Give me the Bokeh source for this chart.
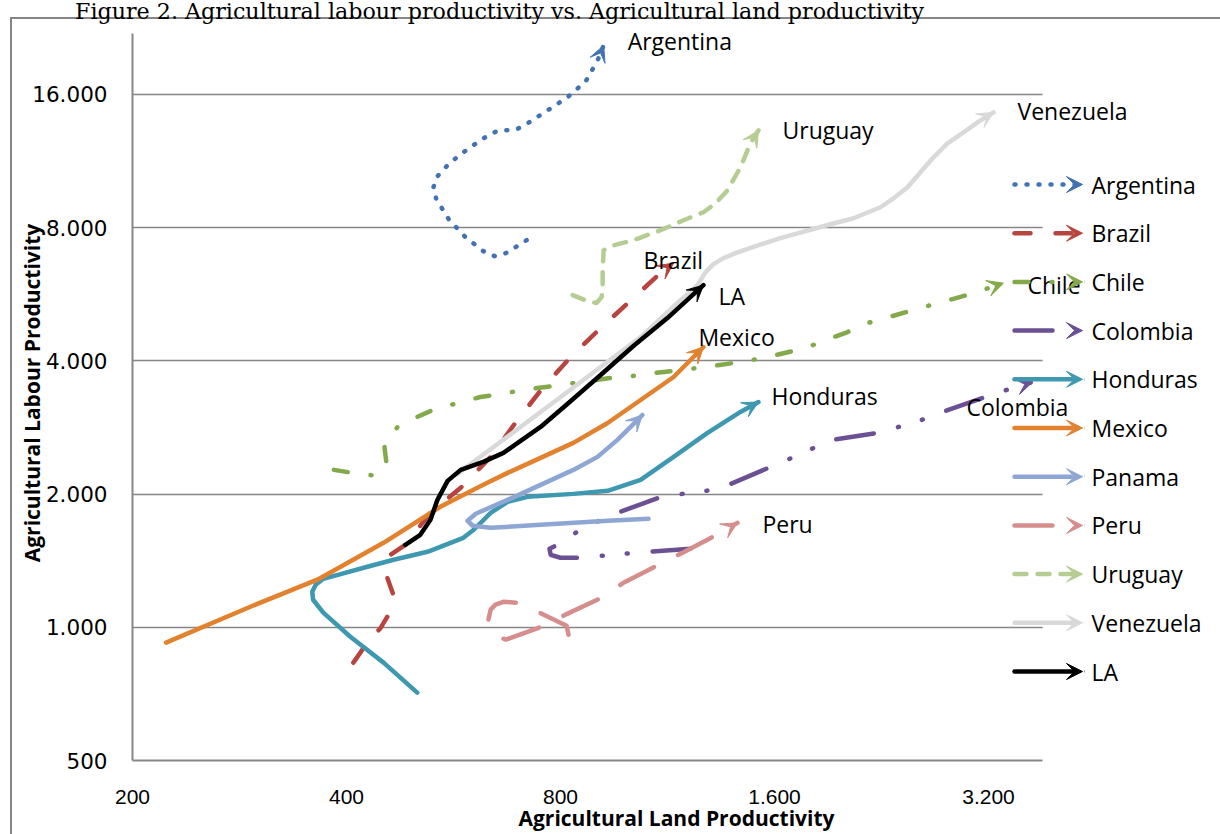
import math
from bokeh.plotting import figure
from bokeh.layouts import column
from bokeh.models import (Range1d, FixedTicker, CustomJSTickFormatter, Label, Arrow,
                          VeeHead, BoxAnnotation, Div)
from bokeh.embed import file_html
from bokeh.resources import INLINE

TITLE = "Figure 2. Agricultural labour productivity vs. Agricultural land productivity"
X_TITLE = "Agricultural Land Productivity"
Y_TITLE = "Agricultural Labour Productivity"
x_ticks = [200, 400, 800, 1600, 3200]
y_ticks = [500, 1000, 2000, 4000, 8000, 16000]
x_axis_bounds = (200, 3813)
y_axis_bounds = (500, 21965)

argentina_x = [717, 670, 646, 623, 588, 557, 535, 530, 537, 558, 584, 623, 650, 667, 694, 719, 767, 818, 868, 902, 920]
argentina_y = [7494, 7004, 6896, 7078, 7612, 8357, 9272, 9869, 10449, 11179, 11837, 12730, 13200, 13269, 13338, 13761, 14722, 15752, 17120, 19094, 20639]

brazil_x = [409, 425, 447, 461, 466, 455, 461, 484, 525, 579, 638, 696, 757, 832, 911, 1013, 1117, 1154]
brazil_y = [832, 909, 998, 1084, 1178, 1314, 1458, 1536, 1814, 2066, 2427, 2941, 3491, 4123, 4744, 5544, 6412, 6649]

chile_x = [384, 408, 441, 455, 452, 472, 503, 537, 575, 617, 659, 710, 762, 818, 941, 1010, 1085, 1180, 1247, 1339, 1433, 1539, 1653, 1769, 1888, 2027, 2162, 2315, 2478, 2652, 2848, 3048, 3359]
chile_y = [2268, 2233, 2199, 2365, 2583, 2836, 2987, 3130, 3213, 3314, 3366, 3437, 3491, 3546, 3659, 3697, 3755, 3814, 3854, 3914, 3976, 4059, 4166, 4276, 4457, 4646, 4868, 5022, 5181, 5345, 5515, 5690, 5993]

colombia_x = [1219, 1064, 984, 914, 848, 800, 775, 772, 792, 840, 899, 962, 1099, 1188, 1284, 1379, 1569, 1680, 1804, 1931, 2234, 2391, 2576, 2757, 3169, 3392, 3690]
colombia_y = [1505, 1481, 1466, 1451, 1436, 1436, 1458, 1505, 1536, 1635, 1731, 1814, 1961, 2002, 2034, 2098, 2292, 2402, 2530, 2651, 2749, 2836, 2941, 3066, 3314, 3437, 3583]

honduras_x = [503, 451, 405, 371, 359, 358, 362, 371, 389, 428, 466, 520, 542, 584, 604, 638, 674, 719, 834, 932, 1037, 1154, 1288, 1433, 1519]
honduras_y = [712, 832, 952, 1079, 1154, 1203, 1248, 1287, 1314, 1370, 1421, 1481, 1520, 1593, 1661, 1814, 1921, 1971, 2002, 2034, 2153, 2427, 2749, 3066, 3229]

mexico_x = [223, 293, 364, 451, 542, 623, 674, 750, 834, 932, 1037, 1154, 1271]
mexico_y = [923, 1113, 1281, 1552, 1872, 2098, 2233, 2414, 2610, 2895, 3263, 3678, 4298]

panama_x = [1064, 932, 750, 638, 602, 592, 608, 674, 750, 834, 902, 962, 1004, 1043]
panama_y = [1758, 1740, 1704, 1678, 1696, 1740, 1805, 1941, 2098, 2268, 2427, 2651, 2836, 3018]

peru_x = [821, 816, 743, 696, 665, 648, 638, 632, 648, 670, 767, 813, 920, 981, 1113, 1188, 1343, 1419]
peru_y = [962, 1008, 1084, 1136, 1142, 1125, 1096, 1024, 957, 938, 1014, 1068, 1172, 1261, 1399, 1474, 1635, 1722]

uruguay_x = [832, 873, 899, 914, 917, 917, 920, 941, 1013, 1106, 1192, 1271, 1322, 1374, 1433, 1480, 1519]
uruguay_y = [5631, 5459, 5403, 5573, 5931, 6412, 7114, 7264, 7494, 7893, 8314, 8666, 9082, 9717, 10949, 12404, 13269]

venezuela_x = [573, 703, 854, 1037, 1180, 1247, 1280, 1313, 1356, 1410, 1505, 1631, 1918, 2067, 2255, 2353, 2462, 2567, 2678, 2802, 2951, 3118, 3252]
venezuela_y = [2222, 2836, 3583, 4527, 5486, 5931, 6346, 6614, 6824, 7004, 7264, 7572, 8143, 8401, 8895, 9320, 9869, 10670, 11534, 12404, 13134, 13978, 14570]

la_x = [484, 508, 525, 537, 555, 579, 623, 665, 703, 750, 818, 911, 1013, 1131, 1271]
la_y = [1536, 1618, 1749, 1941, 2142, 2268, 2365, 2478, 2637, 2836, 3196, 3716, 4320, 4996, 5931]

# name, x, y, colour, dash, label offset (px)
series = [
    ("Argentina", argentina_x, argentina_y, "#4272B4", "1 11", (24, 4)),
    ("Brazil", brazil_x, brazil_y, "#B7443F", "16 25", (-30, 3)),
    ("Chile", chile_x, chile_y, "#82A94A", "14 23 1 23", (24, -2)),
    ("Colombia", colombia_x, colombia_y, "#6B5093", "38 25 1 24 1 25", (-66, -25)),
    ("Honduras", honduras_x, honduras_y, "#3D98B0", "solid", (13, 6)),
    ("Mexico", mexico_x, mexico_y, "#E2822F", "solid", (-5, 10)),
    ("Panama", panama_x, panama_y, "#8DA6D3", "solid", None),
    ("Peru", peru_x, peru_y, "#D68E8D", "38 27", (25, -1)),
    ("Uruguay", uruguay_x, uruguay_y, "#B5CD93", "12 11", (24, 0)),
    ("Venezuela", venezuela_x, venezuela_y, "#D9D9D9", "solid", (24, 1)),
    ("LA", la_x, la_y, "#000000", "solid", (15, -11)),
]

LABEL_FONT = "Open Sans"
LABEL_SIZE = "23px"
LW = 4.5
GRID = "#868686"

# page layout (pixels)
W, H, CAP_H = 1220, 834, 19
F_LEFT, F_TOP, F_BOTTOM = 132, 25, 761          # plot frame edges on the page
PX_X, PX_Y = 214.0, 133.4                        # pixels per doubling
fig_h = H - CAP_H
x_end = x_axis_bounds[0] * 2 ** ((W - F_LEFT) / PX_X)
y_end = y_axis_bounds[0] * 2 ** ((F_BOTTOM - F_TOP) / PX_Y)

p = figure(width=W, height=fig_h, x_axis_type="log", y_axis_type="log",
           x_range=Range1d(x_axis_bounds[0], x_end), y_range=Range1d(y_axis_bounds[0], y_end),
           output_backend="svg", toolbar_location=None, title_location=None,
           min_border_left=F_LEFT, min_border_right=0,
           min_border_top=F_TOP - CAP_H, min_border_bottom=H - F_BOTTOM)
p.margin = (0, 0, 0, 0)
p.outline_line_color = None
p.background_fill_color = None
p.border_fill_color = None
p.styles = {"background": "linear-gradient(#868686, #868686) 10px 0px / 2px 100% no-repeat"}

fmt = CustomJSTickFormatter(code="return Math.round(tick).toString().replace(/\\B(?=(\\d{3})+(?!\\d))/g, '.');")
for ax, ticks, bnds in ((p.xaxis, x_ticks, x_axis_bounds), (p.yaxis, y_ticks, y_axis_bounds)):
    ax.ticker = FixedTicker(ticks=ticks)
    ax.formatter = fmt
    ax.bounds = bnds
    ax.axis_line_color = GRID
    ax.axis_line_width = 2
    ax.major_tick_line_color = None
    ax.minor_tick_line_color = None
    ax.major_tick_out = 0
    ax.major_tick_in = 0
    ax.major_label_text_color = "black"
    ax.axis_label_text_font = LABEL_FONT
    ax.axis_label_text_font_style = "bold"
    ax.axis_label_text_font_size = "21px"
    ax.axis_label_text_color = "black"

p.xaxis.axis_label = X_TITLE
p.xaxis.major_label_text_font = "Liberation Sans"
p.xaxis.major_label_text_font_size = "21px"
p.xaxis.major_label_standoff = 29
p.xaxis.axis_label_standoff = -3
p.yaxis.axis_label = Y_TITLE
p.yaxis.major_label_text_font = "DejaVu Sans"
p.yaxis.major_label_text_font_size = "21.5px"
p.yaxis.major_label_standoff = 25
p.yaxis.axis_label_standoff = -17

p.xgrid.visible = False
p.ygrid.ticker = FixedTicker(ticks=y_ticks)
p.ygrid.grid_line_color = GRID
p.ygrid.grid_line_width = 1.5
# grid lines stop at the right edge of the plot area
p.add_layout(BoxAnnotation(left=x_axis_bounds[1], fill_color="white", fill_alpha=1,
                           line_color=None, level="underlay"))

for name, xs, ys, color, dash, off in series:
    p.line(xs, ys, line_color=color, line_width=LW, line_dash=dash,
           line_cap="round", line_join="round")
    p.add_layout(Arrow(x_start=xs[-2], y_start=ys[-2], x_end=xs[-1], y_end=ys[-1],
                       line_alpha=0,
                       end=VeeHead(size=16, fill_color=color, line_color=color, line_width=1)))

for name, xs, ys, color, dash, off in series:
    if off is None:
        continue
    p.add_layout(Label(x=xs[-1], y=ys[-1], x_offset=off[0], y_offset=off[1], text=name,
                       text_font=LABEL_FONT, text_font_size=LABEL_SIZE, text_color="black",
                       text_align="left", text_baseline="middle"))

# legend (screen units relative to the plot frame's bottom-left corner)
LEG_X0, LEG_X1, LEG_TX, LEG_Y0, LEG_DY = 882, 950, 959, 576, 48.7
for i, (name, xs, ys, color, dash, off) in enumerate(series):
    yy = LEG_Y0 - LEG_DY * i
    p.add_layout(Arrow(x_start=LEG_X0, y_start=yy, x_end=LEG_X1, y_end=yy,
                       start_units="screen", end_units="screen",
                       line_color=color, line_width=LW, line_dash=dash, line_cap="round",
                       end=VeeHead(size=16, fill_color=color, line_color=color, line_width=1)))
    p.add_layout(Label(x=LEG_TX, y=yy, x_units="screen", y_units="screen", text=name,
                       text_font=LABEL_FONT, text_font_size=LABEL_SIZE, text_color="black",
                       text_align="left", text_baseline="middle"))

caption = Div(
    text=('<div style="font-family: \'DejaVu Serif\', serif; font-size: 22.2px; line-height: 22px; '
          'white-space: nowrap; margin: 0px 0 0 75px; color: black;">' + TITLE + '</div>'),
    width=W, height=CAP_H, margin=(0, 0, 0, 0),
    styles={"background": ("linear-gradient(#868686, #868686) 10px 17px / 100% 2px no-repeat, "
                           "linear-gradient(#868686, #868686) 10px 17px / 2px 100% no-repeat"),
            "overflow": "visible"})

layout = column(caption, p, spacing=0)
layout.margin = (0, 0, 0, 0)
open("out.html", "w").write(file_html(layout, INLINE))
